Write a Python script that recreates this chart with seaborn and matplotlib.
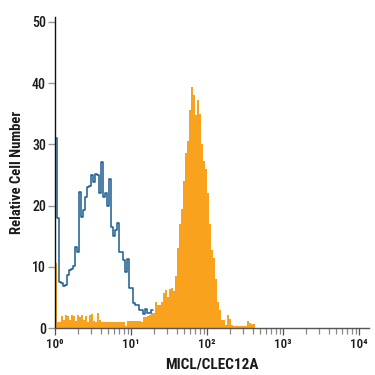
import numpy as np
import pandas as pd
import matplotlib
matplotlib.use("Agg")
import matplotlib.pyplot as plt
import matplotlib.ticker as mticker
import matplotlib.font_manager as fm
import seaborn as sns

# ---- data (log10 fluorescence bins, counts) ----
bin_width = 1 / 38  # decades per channel
isotype_counts = [31, 18, 7.5, 7.3, 6.9, 7.0, 8.7, 9.5, 9.7, 10.1, 13.2, 12.4, 22.2, 18.2,
                  19.3, 21.4, 23.0, 23.2, 25.0, 23.9, 25.2, 25.0, 22.0, 27.1, 21.4, 22.0,
                  20.0, 24.3, 16.5, 15.0, 16.0, 17.1, 12.4, 12.4, 11.1, 9.2, 11.2, 6.5,
                  6.5, 4.1, 3.8, 3.8, 3.0, 3.0, 2.3, 3.1, 2.4, 2.4, 3.0]
micl_counts = [10.6, 1.0, 1.0, 2.0, 1.3, 2.1, 2.0, 1.3, 2.1, 2.0, 1.2, 2.1, 1.8, 2.2,
               1.3, 2.0, 1.0, 2.2, 2.3, 1.2, 1.0, 2.4, 1.3,
               1.0, 0.9, 1.0, 1.0, 1.0, 0.9, 1.0, 1.0, 1.0, 0.9, 1.0, 1.0,
               0.3, 1.1, 1.1, 1.2, 1.1, 1.2, 1.1, 1.2, 1.0,
               1.8, 1.8, 2.0, 2.1, 2.4, 2.4, 4.2, 3.8, 3.8, 4.2, 5.7, 6.2, 5.0, 6.4,
               6.5, 6.0, 8.5, 13, 17, 19.5, 24, 28.6, 30.5, 35.6, 39.4, 38.0, 34.8,
               37.3, 35, 30, 27.3, 26, 22, 17, 12.7, 11.5, 8, 4.2, 3, 1.3, 1.3, 0.5,
               2.1, 1.5, 0.5, 0.3, 0.3, 0.3, 0.3, 0.3, 0.3, 0.3, 1.1, 0.8, 0.7, 0.7]
x_ticks = [1, 10, 100, 1000, 10000]
x_tick_labels = ["10⁰", "10¹", "10²", "10³", "10⁴"]
y_ticks = [0, 10, 20, 30, 40, 50]
x_label = "MICL/CLEC12A"
y_label = "Relative Cell Number"

blue = "#1b5d8f"
orange = "#f8a21e"

def make_df(counts):
    n = len(counts)
    centers = (np.arange(n) + 0.5) * bin_width
    edges = (np.arange(n + 1) * bin_width).tolist()
    return pd.DataFrame({"x": 10 ** centers, "w": counts}), edges

sns.set_style("white")
names = {f.name for f in fm.fontManager.ttflist}
narrow = [n for n in ["Liberation Sans Narrow", "Roboto Condensed", "Open Sans Condensed"] if n in names]
fam = narrow + ["DejaVu Sans"]
plt.rcParams["font.family"] = fam
plt.rcParams["font.stretch"] = "condensed"

fig = plt.figure(figsize=(3.75, 3.75), dpi=100)
ax = fig.add_axes([55 / 375, 1 - 328 / 375, (369 - 55) / 375, (328 - 17) / 375])

df_o, edges_o = make_df(micl_counts)
sns.histplot(data=df_o, x="x", weights="w", bins=edges_o, log_scale=True,
             element="step", fill=True, color=orange, alpha=1, linewidth=0, ax=ax)
df_b, edges_b = make_df(isotype_counts)
sns.histplot(data=df_b, x="x", weights="w", bins=edges_b, log_scale=True,
             element="step", fill=False, color=blue, linewidth=1.1, ax=ax)

ax.set_xscale("log")
ax.set_xlim(1, 10 ** ((369 - 55) / 76))
ax.set_ylim(0, 50.8)
ax.set_xticks(x_ticks)
ax.set_xticklabels(x_tick_labels)
ax.xaxis.set_minor_locator(mticker.LogLocator(base=10, subs=np.arange(2, 10)))
ax.xaxis.set_minor_formatter(mticker.NullFormatter())
ax.set_yticks(y_ticks)

for s in ["top", "right"]:
    ax.spines[s].set_visible(False)
ax.spines["left"].set_color("#111111")
ax.spines["left"].set_linewidth(1.0)
ax.spines["bottom"].set_color("#555555")
ax.spines["bottom"].set_linewidth(1.0)

ax.tick_params(axis="y", which="major", direction="out", length=5, width=1.0,
               color="#999999", pad=1.5, labelsize=10, labelcolor="#1a1a1a", left=True)
ax.tick_params(axis="x", which="major", direction="out", length=5, width=0.9,
               color="#555555", pad=2, labelsize=9.5, labelcolor="#1a1a1a", bottom=True)
ax.tick_params(axis="x", which="minor", direction="out", length=4.5, width=0.9,
               color="#888888", bottom=True)
for lab in ax.get_xticklabels() + ax.get_yticklabels():
    lab.set_fontweight("medium")

ax.set_xlabel(x_label, fontsize=11, color="#1a1a1a", labelpad=5, fontweight="bold")
ax.set_ylabel(y_label, fontsize=10.5, color="#1a1a1a", labelpad=6, fontweight="bold")
ax.grid(False)

fig.savefig("out.png", dpi=100)
